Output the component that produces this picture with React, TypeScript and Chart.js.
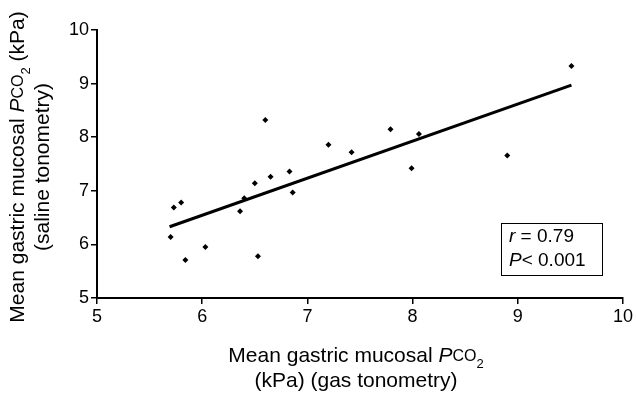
import React, { useEffect, useRef } from "react";
import { Chart, registerables } from "chart.js";

Chart.register(...registerables);

// Data
const gasX = [5.70, 5.73, 5.80, 5.84, 6.03, 6.36, 6.40, 6.50, 6.53, 6.60, 6.65, 6.83, 6.86, 7.20, 7.42, 7.79, 7.99, 8.06, 8.90, 9.51];
const salineY = [6.14, 6.69, 6.78, 5.71, 5.95, 6.62, 6.86, 7.14, 5.78, 8.32, 7.26, 7.36, 6.97, 7.86, 7.72, 8.15, 7.42, 8.06, 7.66, 9.33];
const fitX = [5.69, 9.51];
const fitY = [6.33, 8.97];
const axisMin = 5;
const axisMax = 10;
const statR = "0.79";
const statP = "0.001";

const FONT = '"Liberation Sans", Arial, Helvetica, sans-serif';

type Seg = { t: string; size: number; italic?: boolean; dy?: number };

function drawRich(ctx: CanvasRenderingContext2D, segs: Seg[], cx: number, cy: number) {
  let total = 0;
  const widths: number[] = [];
  for (const s of segs) {
    ctx.font = `${s.italic ? "italic " : ""}${s.size}px ${FONT}`;
    const w = ctx.measureText(s.t).width;
    widths.push(w);
    total += w;
  }
  let x = cx - total / 2;
  ctx.textBaseline = "middle";
  ctx.textAlign = "left";
  segs.forEach((s, i) => {
    ctx.font = `${s.italic ? "italic " : ""}${s.size}px ${FONT}`;
    ctx.fillText(s.t, x, cy + (s.dy || 0));
    x += widths[i];
  });
}

const titlesPlugin = {
  id: "titlesPlugin",
  afterDraw(chart: any) {
    const ctx: CanvasRenderingContext2D = chart.ctx;
    const ca = chart.chartArea;
    ctx.save();
    ctx.fillStyle = "#000";
    const fs = 21;
    const line1: Seg[] = [
      { t: "Mean gastric mucosal ", size: fs },
      { t: "P", size: fs, italic: true },
      { t: "CO", size: 16, dy: 1 },
      { t: "2", size: 13, dy: 8 },
    ];
    // X title
    const xc = (ca.left + ca.right) / 2 - 4;
    drawRich(ctx, line1, xc, 356);
    drawRich(ctx, [{ t: "(kPa) (gas tonometry)", size: fs }], xc, 381);

    // Y title (rotated)
    const yc = (ca.top + ca.bottom) / 2 + 3;
    ctx.save();
    ctx.translate(18, yc);
    ctx.rotate(-Math.PI / 2);
    drawRich(ctx, [...line1, { t: " (kPa)", size: fs }], 0, 0);
    ctx.restore();
    ctx.save();
    ctx.translate(43, yc);
    ctx.rotate(-Math.PI / 2);
    drawRich(ctx, [{ t: "(saline tonometry)", size: fs }], 0, 0);
    ctx.restore();

    // Stats box
    const bx = ca.right - 122;
    const by = 223;
    const bw = 101;
    const bh = 52;
    ctx.strokeStyle = "#000";
    ctx.lineWidth = 1;
    ctx.strokeRect(bx + 0.5, by + 0.5, bw, bh);
    ctx.textBaseline = "middle";
    ctx.textAlign = "left";
    const bf = 19;
    ctx.font = `italic ${bf}px ${FONT}`;
    ctx.fillText("r", bx + 8, by + 14);
    let w = ctx.measureText("r").width;
    ctx.font = `${bf}px ${FONT}`;
    ctx.fillText(" = " + statR, bx + 8 + w, by + 14);
    ctx.font = `italic ${bf}px ${FONT}`;
    ctx.fillText("P", bx + 8, by + 38);
    w = ctx.measureText("P").width;
    ctx.font = `${bf}px ${FONT}`;
    ctx.fillText("< " + statP, bx + 8 + w, by + 38);
    ctx.restore();
  },
};

export default function App() {
  const ref = useRef<HTMLCanvasElement | null>(null);
  useEffect(() => {
    document.body.style.margin = "0";
    const canvas = ref.current;
    if (!canvas) return;
    const axisCommon = (afterFit: (s: any) => void) => ({
      type: "linear" as const,
      min: axisMin,
      max: axisMax,
      ticks: {
        stepSize: 1,
        color: "#000",
        font: { family: FONT, size: 18 },
        padding: 2,
      },
      grid: {
        display: true,
        drawOnChartArea: false,
        drawTicks: true,
        tickLength: 6,
        color: "#000",
        lineWidth: 1.5,
      },
      border: { display: true, color: "#000", width: 2 },
      afterFit,
    });
    const chart = new Chart(canvas, {
      type: "scatter",
      data: {
        datasets: [
          {
            type: "scatter",
            data: gasX.map((x, i) => ({ x, y: salineY[i] })),
            pointStyle: "rectRot",
            pointRadius: 3,
            backgroundColor: "#000",
            borderColor: "#000",
            borderWidth: 0,
          },
          {
            type: "line",
            data: fitX.map((x, i) => ({ x, y: fitY[i] })),
            borderColor: "#000",
            borderWidth: 3,
            pointRadius: 0,
            showLine: true,
            fill: false,
          } as any,
        ],
      },
      options: {
        animation: false,
        responsive: false,
        devicePixelRatio: 1,
        layout: { padding: { top: 30, right: 13, left: 0, bottom: 0 } },
        plugins: { legend: { display: false }, tooltip: { enabled: false } },
        scales: {
          x: axisCommon((s: any) => {
            s.height = 96;
          }),
          y: axisCommon((s: any) => {
            s.width = 97;
          }),
        },
      },
      plugins: [titlesPlugin],
    });
    return () => chart.destroy();
  }, []);
  return <canvas ref={ref} width={636} height={394} style={{ display: "block" }} />;
}
